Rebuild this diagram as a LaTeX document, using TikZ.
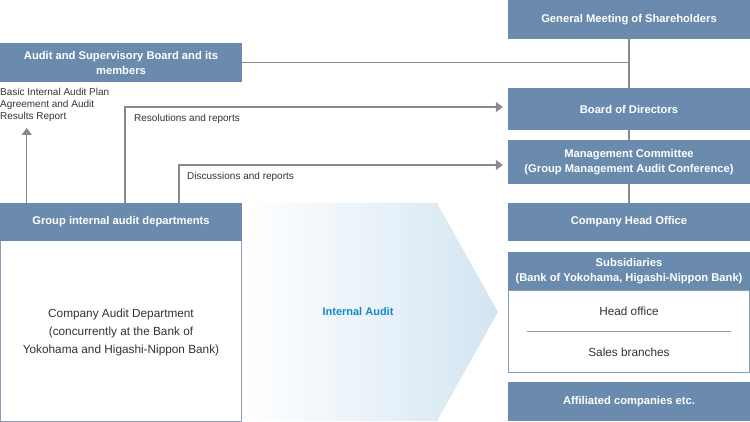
\documentclass[tikz,border=0pt]{standalone}
\usepackage{fontspec}
\setmainfont{Liberation Sans}
\usetikzlibrary{arrows.meta,calc}
\definecolor{boxblue}{HTML}{6B8BAE}
\definecolor{linegray}{HTML}{8A8A8A}
\definecolor{bodygray}{HTML}{8B9DB4}
\definecolor{chevblue}{HTML}{D3E5F2}
\definecolor{iablue}{HTML}{1189CC}
\definecolor{txtgray}{HTML}{333333}
\tikzset{
  hdr/.style={fill=boxblue, text=white, font=\fontsize{11.2}{15}\selectfont\bfseries, align=center, inner sep=0pt, minimum width=242pt},
  bodybox/.style={draw=bodygray, line width=1pt, fill=white, inner sep=0pt, minimum width=241pt},
  conn/.style={draw=linegray, line width=1.4pt},
  arr/.style={conn, -{Triangle[length=7pt,width=10pt]}},
  lbl/.style={font=\fontsize{10}{12}\selectfont, text=txtgray, inner sep=0pt},
  body/.style={font=\fontsize{11.8}{18}\selectfont, text=txtgray, align=center, inner sep=0pt}
}
\begin{document}
\begin{tikzpicture}[x=1pt,y=-1pt]
\useasboundingbox (0,0) rectangle (750,422);
% chevron
\shade[left color=white, right color=chevblue, shading=axis] (245,203) -- (437,203) -- (498,312) -- (437,421) -- (245,421) -- cycle;
\node[font=\fontsize{11}{12}\selectfont\bfseries, text=iablue] (ia) at (358,312) {Internal Audit};
% right column
\node[hdr, minimum height=39pt] (gms) at (629,19.5) {General Meeting of Shareholders};
\node[hdr, minimum height=42pt] (bod) at (629,109) {Board of Directors};
\node[hdr, minimum height=44pt] (mc) at (629,162) {Management Committee\\(Group Management Audit Conference)};
\node[hdr, minimum height=38pt] (cho) at (629,222) {Company Head Office};
\node[bodybox, minimum height=82pt] (subb) at (629,331.5) {};
\node[hdr, minimum height=38pt] (sub) at (629,271) {Subsidiaries\\(Bank of Yokohama, Higashi-Nippon Bank)};
\node[body] (ho) at (629,311) {Head office};
\node[body] (sb) at (629,352) {Sales branches};
\coordinate (sepl) at (527,331);
\coordinate (sepr) at (731,331);
\draw[draw=bodygray, line width=1pt] (sepl) -- (sepr);
\node[hdr, minimum height=39pt] (aff) at (629,401.5) {Affiliated companies etc.};
% left column
\node[hdr, minimum height=39pt] (asb) at (121,62.5) {Audit and Supervisory Board and its\\members};
\node[bodybox, minimum height=180pt] (giab) at (121,331) {};
\node[hdr, minimum height=38pt] (gia) at (121,222) {Group internal audit departments};
\node[body] (cad) at (121,332) {Company Audit Department\\(concurrently at the Bank of\\Yokohama and Higashi-Nippon Bank)};
\node[lbl, anchor=north west, align=left] (basic) at (0,88) {Basic Internal Audit Plan\\Agreement and Audit\\Results Report};
% connectors
\draw[conn] (gms.south) -- (bod.north);
\draw[conn] (bod.south) -- (mc.north);
\draw[conn] (mc.south) -- (cho.north);
\draw[conn] (asb.east) -- (gms.south |- asb.east);
\coordinate (a1) at (26.7,203);
\coordinate (atip) at (26.7,128);
\coordinate (r1) at (125,203);
\coordinate (d1) at (179,203);
\draw[arr] (a1) -- (atip);
\draw[arr, shorten >=5pt] (r1) |- ([yshift=2pt]bod.west);
\draw[arr, shorten >=5pt] (d1) |- ([yshift=-3pt]mc.west);
\node[lbl, anchor=west] (rl) at (134,119) {Resolutions and reports};
\node[lbl, anchor=west] (dl) at (187,177) {Discussions and reports};
\end{tikzpicture}
\end{document}
